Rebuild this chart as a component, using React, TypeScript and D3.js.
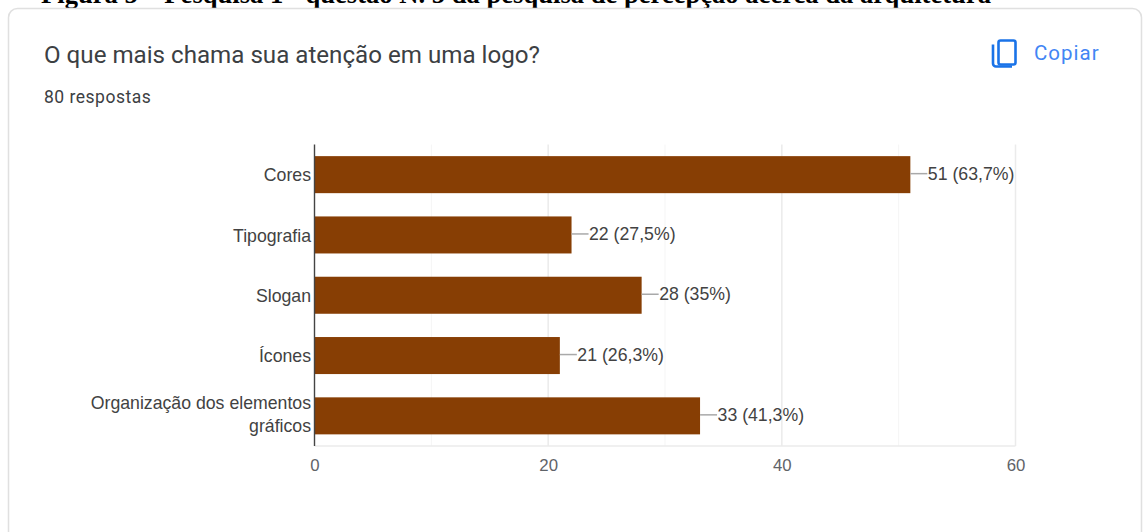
import React from "react";
import * as d3 from "d3";

const categories: string[][] = [
  ["Cores"],
  ["Tipografia"],
  ["Slogan"],
  ["Ícones"],
  ["Organização dos elementos", "gráficos"],
];
const counts = [51, 22, 28, 21, 33];
const shares = ["63,7%", "27,5%", "35%", "26,3%", "41,3%"];
const majorTicks = [0, 20, 40, 60];
const minorTicks = [10, 30, 50];

const heading = "Figura 5 – Pesquisa 1 - questão N. 5 da pesquisa de percepção acerca da arquitetura";
const question = "O que mais chama sua atenção em uma logo?";
const responses = "80 respostas";
const copyLabel = "Copiar";

const W = 1144;
const H = 532;
const plot = { left: 314.5, right: 1015.5, top: 144.5, bottom: 446 };
const UI = "Roboto, sans-serif";
const CHART = "'Liberation Sans', Arial, sans-serif";

export default function App() {
  const x = d3.scaleLinear().domain([0, 60]).range([plot.left, plot.right]);
  const y = d3
    .scaleBand<number>()
    .domain(d3.range(categories.length))
    .range([plot.top, plot.bottom])
    .paddingInner(0.386)
    .paddingOuter(0.193);

  return (
    <svg
      width={W}
      height={H}
      viewBox={`0 0 ${W} ${H}`}
      style={{ position: "absolute", left: 0, top: 0, display: "block", background: "#fff" }}
    >
      <text
        x={41}
        y={3}
        fontFamily="'Liberation Serif', 'Times New Roman', serif"
        fontWeight={700}
        fontSize={26.6}
        fill="#000"
      >
        {heading}
      </text>

      {/* Card outline, running off the bottom of the page */}
      <rect x={8.5} y={8.5} width={1133} height={560} rx={9} fill="#fff" stroke="#e0e0e0" strokeWidth={1.5} />

      <text x={44} y={63} fontFamily={UI} fontSize={24.15} fill="#3c4043">
        {question}
      </text>
      <text x={44} y={103} fontFamily={UI} fontSize={17.5} letterSpacing={0.5} fill="#3c4043">
        {responses}
      </text>

      {/* Copy icon and button label */}
      <g fill="none" stroke="#1a73e8" strokeWidth={2.6}>
        <rect x={998.5} y={40.5} width={17} height={24} rx={2} />
        <path d="M993 44.5 V63.5 a3 3 0 0 0 3 3 H1012" />
      </g>
      <text x={1034} y={60} fontFamily={UI} fontSize={20.5} fontWeight={400} letterSpacing={1} fill="#4285f4">
        {copyLabel}
      </text>

      {/* Vertical gridlines */}
      {minorTicks.map((t) => (
        <line key={t} x1={x(t)} x2={x(t)} y1={plot.top} y2={plot.bottom} stroke="#f5f5f5" strokeWidth={1} />
      ))}
      {majorTicks.slice(1).map((t) => (
        <line key={t} x1={x(t)} x2={x(t)} y1={plot.top} y2={plot.bottom} stroke="#ebebeb" strokeWidth={1.5} />
      ))}
      <line x1={plot.left} x2={plot.right} y1={plot.bottom} y2={plot.bottom} stroke="#ebebeb" strokeWidth={1.5} />

      {/* Bars with leader lines and value labels */}
      {counts.map((v, i) => {
        const top = y(i)!;
        const mid = top + y.bandwidth() / 2;
        return (
          <g key={i}>
            <rect x={x(0)} y={top} width={x(v) - x(0)} height={y.bandwidth()} fill="#873e04" />
            <line x1={x(v)} x2={x(v) + 17} y1={mid - 1} y2={mid - 1} stroke="#a9a9a9" strokeWidth={1.5} />
            <text
              x={x(v) + 17.5}
              y={mid + 5}
              fontFamily={CHART}
              fontSize={17.7}
              fill="#424242"
            >
              {`${v} (${shares[i]})`}
            </text>
          </g>
        );
      })}

      {/* Category labels */}
      {categories.map((lines, i) => {
        const mid = y(i)! + y.bandwidth() / 2;
        const first = lines.length > 1 ? mid - 6.5 : mid + 6.8;
        return (
          <text key={i} textAnchor="end" fontFamily={CHART} fontSize={17.7} fill="#424242">
            {lines.map((line, j) => (
              <tspan key={j} x={311} y={first + j * 23}>
                {line}
              </tspan>
            ))}
          </text>
        );
      })}

      <line x1={plot.left} x2={plot.left} y1={plot.top} y2={plot.bottom} stroke="#444" strokeWidth={1.4} />

      {majorTicks.map((t) => (
        <text key={t} x={x(t) + 0.5} y={471} textAnchor="middle" fontFamily={CHART} fontSize={16.8} fill="#5f6368">
          {t}
        </text>
      ))}
    </svg>
  );
}
